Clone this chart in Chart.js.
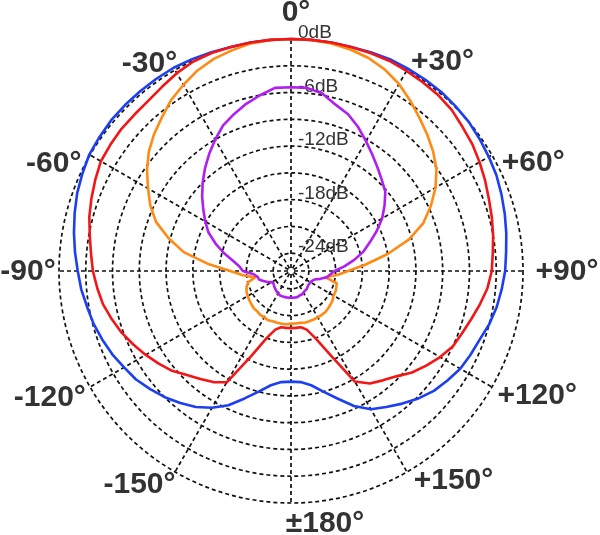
<!DOCTYPE html>
<html>
<head>
<meta charset="utf-8">
<script src="https://cdn.jsdelivr.net/npm/chart.js@4.4.1/dist/chart.umd.min.js"></script>
<style>
  html, body { margin: 0; padding: 0; background: #ffffff; }
  #wrap { width: 600px; height: 535px; }
</style>
</head>
<body>
<div id="wrap"><canvas id="c" width="600" height="535"></canvas></div>
<script>
// Angles (degrees, clockwise from 0° at the top), one category every 5°
const ANGLES = [0,5,10,15,20,25,30,35,40,45,50,55,60,65,70,75,80,85,90,95,100,105,110,115,120,125,130,135,140,145,150,155,160,165,170,175,
  180,185,190,195,200,205,210,215,220,225,230,235,240,245,250,255,260,265,270,275,280,285,290,295,300,305,310,315,320,325,330,335,340,345,350,355];

// Angle tick labels (placed at these angles)
const ANGLE_TICK_VALUES = [0, 30, 60, 90, 120, 150, 180, 210, 240, 270, 300, 330];
const ANGLE_TICK_LABELS = ['0°', '+30°', '+60°', '+90°', '+120°', '+150°', '±180°', '-150°', '-120°', '-90°', '-60°', '-30°'];

// Level tick labels (dB)
const DB_LABEL_VALUES = [0, -6, -12, -18, -24];
const DB_LABEL_TEXT = ['0dB', '-6dB', '-12dB', '-18dB', '-24dB'];

// Series (dB) at each angle in ANGLES
const BLUE = [0,0,0,0,0.1,0.2,0.2,0.2,0.2,0.1,0,-0.2,-0.4,-0.6,-0.9,-1.2,-1.5,-1.8,-2.0,-2.3,-2.6,-3.0,-3.5,-3.8,-4.1,-4.6,-5.1,-5.8,-6.6,-7.4,-8.1,-9.3,-10.8,-12.0,-13.0,-13.5,
  -13.6,-13.5,-13.0,-12.0,-10.8,-9.4,-8.3,-7.4,-6.7,-6.0,-5.4,-4.8,-4.4,-3.9,-3.5,-3.1,-2.8,-2.4,-2.1,-1.7,-1.3,-0.9,-0.5,-0.2,0.1,0.2,0.3,0.3,0.3,0.3,0.3,0.2,0.1,0,0,0];
const RED = [0,0,0,0,0,0,-0.1,-0.2,-0.3,-0.5,-0.9,-1.2,-1.6,-2.0,-2.4,-2.7,-3.0,-3.3,-3.5,-3.9,-4.5,-5.1,-5.6,-6.0,-6.7,-7.5,-8.3,-9.3,-10.0,-10.6,-11.7,-15.7,-18.0,-19.2,-19.6,-19.6,
  -19.6,-19.6,-19.6,-19.2,-18.0,-15.5,-11.6,-10.8,-10.2,-9.5,-8.6,-7.9,-7.2,-6.5,-5.8,-5.2,-4.6,-4.2,-3.8,-3.5,-3.1,-2.6,-2.2,-1.8,-1.4,-1.3,-1.2,-1.2,-1.1,-0.8,-0.4,-0.1,0,0,0,0];
const ORANGE = [0,0,-0.1,-0.3,-0.6,-1.1,-1.8,-2.7,-3.6,-4.4,-5.2,-6.1,-7.3,-8.7,-10.2,-12.3,-15.0,-17.6,-19.6,-20.8,-22.1,-20.7,-20.6,-20.5,-20.5,-20.3,-20.2,-20.1,-20.0,-20.0,-20.0,-20.0,-20.0,-20.0,-20.1,-20.1,
  -20.1,-20.0,-20.0,-20.0,-20.0,-19.9,-20.0,-20.0,-20.1,-20.1,-20.2,-20.3,-20.4,-20.5,-20.7,-21.0,-21.9,-20.6,-19.2,-16.6,-13.8,-11.8,-9.9,-8.6,-7.5,-6.3,-5.2,-4.3,-3.5,-2.6,-1.9,-1.2,-0.7,-0.4,-0.1,0];
const PURPLE = [-5.4,-5.4,-5.8,-6.7,-7.3,-8.2,-9.2,-10.1,-10.9,-11.6,-12.2,-13.2,-14.2,-15.4,-16.6,-17.6,-18.8,-20.0,-21.1,-21.6,-21.9,-22.6,-23.2,-23.4,-23.5,-23.5,-23.5,-23.4,-23.3,-23.3,-23.2,-23.1,-23.1,-23.0,-23.0,-23.0,
  -23.0,-23.0,-23.0,-23.0,-23.0,-23.0,-23.1,-23.2,-23.3,-23.4,-23.5,-23.6,-23.5,-23.1,-22.7,-22.3,-22.2,-21.8,-20.6,-20.2,-19.4,-18.2,-17.0,-15.8,-14.9,-14.0,-13.0,-12.0,-11.0,-10.0,-9.0,-8.0,-7.3,-6.6,-6.0,-5.4];

const SCALE_MIN = -26, SCALE_MAX = 0, SCALE_STEP = 3;

// Styling
const TEXT_COLOR = '#333333';
const GRID_COLOR = '#111111';
// small label nudges (px) so the angle captions sit where the original places them
const ANGLE_LABEL_NUDGE = [[5,-2],[20,18],[10,26],[6,1],[14,-9],[31,-18],[34,-3],[-20,-14],[-9,-7],[7,1],[-5,27],[-10,20]];

const polarLabels = {
  id: 'polarLabels',
  beforeDatasetsDraw(chart) {
    const s = chart.scales.r;
    const ctx = chart.ctx;
    ctx.save();
    ctx.font = '19px "Liberation Sans", Arial, sans-serif';
    ctx.fillStyle = TEXT_COLOR;
    ctx.textAlign = 'left';
    ctx.textBaseline = 'alphabetic';
    DB_LABEL_VALUES.forEach((v, k) => {
      const d = s.getDistanceFromCenterForValue(v);
      ctx.fillText(DB_LABEL_TEXT[k], s.xCenter + 7, s.yCenter - d - 1);
    });
    ctx.restore();
  },
  afterDraw(chart) {
    const s = chart.scales.r;
    const ctx = chart.ctx;
    ctx.save();
    ctx.font = 'bold 30px "Liberation Sans", Arial, sans-serif';
    ctx.fillStyle = TEXT_COLOR;
    ctx.textAlign = 'center';
    ctx.textBaseline = 'middle';
    ANGLE_TICK_VALUES.forEach((a, k) => {
      const idx = ANGLES.indexOf(a);
      const rad = a * Math.PI / 180;
      const p = s.getPointPosition(idx, s.drawingArea + 24 + 14 * Math.abs(Math.sin(rad)));
      const n = ANGLE_LABEL_NUDGE[k];
      ctx.fillText(ANGLE_TICK_LABELS[k], p.x + n[0], p.y + n[1]);
    });
    ctx.restore();
  }
};

function ds(label, data, color) {
  return {
    label, data,
    borderColor: color,
    backgroundColor: color,
    borderWidth: 2.6,
    borderJoinStyle: 'round',
    pointRadius: 0,
    pointHoverRadius: 0,
    fill: false,
    tension: 0
  };
}

new Chart(document.getElementById('c'), {
  type: 'radar',
  data: {
    labels: ANGLES.map(a => String(a)),
    datasets: [
      ds('purple', PURPLE, '#b01ef2'),
      ds('red', RED, '#f41616'),
      ds('orange', ORANGE, '#ff8a14'),
      ds('blue', BLUE, '#1d3ff2')
    ]
  },
  options: {
    responsive: false,
    animation: false,
    events: [],
    layout: { padding: { left: 59, right: 77, top: 39, bottom: 32 } },
    plugins: { legend: { display: false }, tooltip: { enabled: false } },
    scales: {
      r: {
        min: SCALE_MIN,
        max: SCALE_MAX,
        ticks: { display: false, stepSize: SCALE_STEP },
        pointLabels: { display: false },
        grid: {
          circular: true,
          color: GRID_COLOR,
          lineWidth: c => (c.tick && c.tick.value <= SCALE_MIN) ? 0 : 1.7
        },
        border: { dash: [4, 3] },
        angleLines: {
          color: GRID_COLOR,
          lineWidth: c => (ANGLE_TICK_VALUES.indexOf(ANGLES[c.index]) >= 0) ? 1.7 : 0,
          borderDash: [4, 3],
          borderDashOffset: 4
        }
      }
    }
  },
  plugins: [polarLabels]
});
</script>
</body>
</html>
